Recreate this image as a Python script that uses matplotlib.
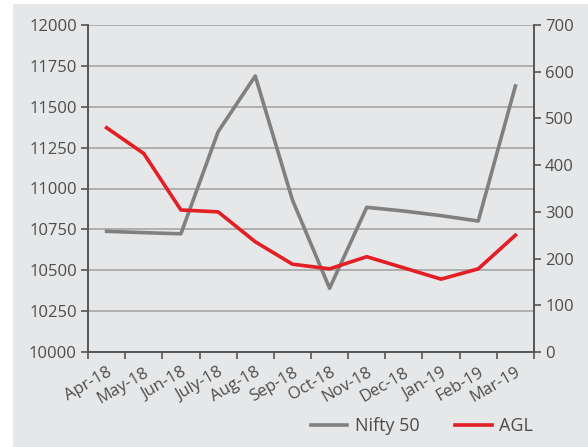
import numpy as np
import matplotlib.pyplot as plt
from matplotlib.patches import Rectangle

months = ['Apr-18', 'May-18', 'Jun-18', 'July-18', 'Aug-18', 'Sep-18',
          'Oct-18', 'Nov-18', 'Dec-18', 'Jan-19', 'Feb-19', 'Mar-19']
nifty = [10738, 10730, 10723, 11347, 11688, 10930, 10390, 10885, 10862, 10834, 10801, 11627]
agl = [480, 425, 304, 300, 236, 188, 178, 204, 180, 156, 178, 250]

plt.rcParams['font.family'] = ['Open Sans', 'DejaVu Sans']
txt = '#4d4d4d'
bg = '#e6e7e8'

fig = plt.figure(figsize=(5.88, 4.47), dpi=100)
fig.patch.set_facecolor('white')
fig.patches.append(Rectangle((13 / 588, 0), 1, 1 - 4 / 447, transform=fig.transFigure,
                             facecolor=bg, edgecolor='none', zorder=-10))

ax = fig.add_axes([88 / 588, 1 - 352 / 447, (534 - 88) / 588, (352 - 25) / 447])
ax.set_facecolor('none')
x = np.arange(len(months))

ax.set_ylim(10000, 12000)
ax.set_yticks(np.arange(10000, 12001, 250))
ax.set_xlim(-0.5, len(months) - 0.5)
ax.yaxis.grid(True, color='#a6a6a6', linewidth=1.2)
ax.set_axisbelow(True)

l1, = ax.plot(x, nifty, color='#808080', linewidth=2.6, label='Nifty 50', zorder=3)

ax2 = ax.twinx()
ax2.set_ylim(0, 700)
ax2.set_yticks(np.arange(0, 701, 100))
l2, = ax2.plot(x, agl, color='#e31e24', linewidth=2.6, label='AGL', zorder=3)

for a in (ax, ax2):
    a.spines['top'].set_visible(False)
    for s in ('left', 'right', 'bottom'):
        a.spines[s].set_color('#555555')
        a.spines[s].set_linewidth(1.2)
    a.tick_params(axis='y', colors='#555555', labelcolor=txt, labelsize=12,
                  length=5, width=1.2, pad=3)

ax.set_xticks(x)
ax.set_xticklabels(months, rotation=30, ha='right', rotation_mode='anchor')
ax.set_xticks(np.arange(-0.5, len(months), 1), minor=True)
ax.tick_params(axis='x', which='major', length=0, labelsize=12, labelcolor=txt, pad=9)
ax.tick_params(axis='x', which='minor', length=5, width=1.2, color='#555555')

fig.legend(handles=[l1, l2], loc='center', bbox_to_anchor=(422 / 588, 1 - 426 / 447),
           ncol=2, frameon=False, fontsize=13, labelcolor=txt, handlelength=2.0,
           columnspacing=2.0, handletextpad=0.4)

fig.savefig('out.png', dpi=100)
